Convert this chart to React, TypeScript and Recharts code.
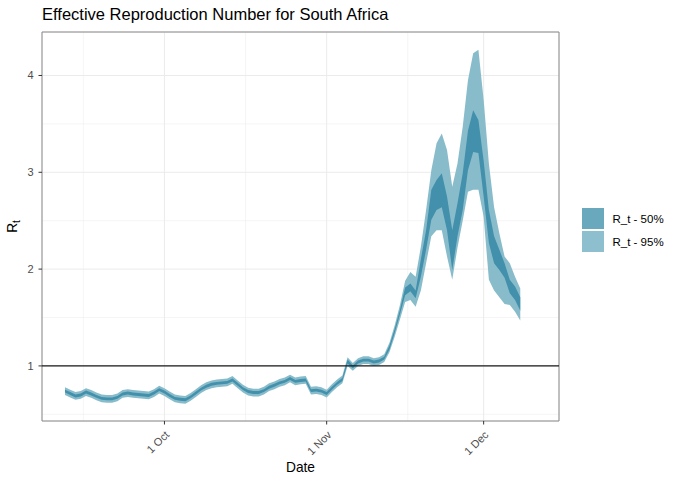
import React from "react";
import {
  ComposedChart,
  Area,
  XAxis,
  YAxis,
  CartesianGrid,
  ReferenceLine,
  ReferenceArea,
  Legend,
} from "recharts";

const DAY = 86400000;
const startDate = Date.UTC(2020, 8, 12);
const oct1 = Date.UTC(2020, 9, 1);

// daily bounds from 12 Sep to 8 Dec
const lo95 = [
  0.7, 0.675, 0.65, 0.66, 0.69, 0.67, 0.645, 0.625, 0.62, 0.62,
  0.635, 0.67, 0.68, 0.67, 0.665, 0.66, 0.655, 0.68, 0.715, 0.69,
  0.655, 0.625, 0.615, 0.61, 0.64, 0.68, 0.72, 0.75, 0.77, 0.78,
  0.785, 0.79, 0.815, 0.77, 0.725, 0.695, 0.685, 0.685, 0.705, 0.74,
  0.76, 0.785, 0.8, 0.83, 0.8, 0.81, 0.815, 0.705, 0.71, 0.7,
  0.675, 0.73, 0.78, 0.82, 1.0, 0.95, 1.0, 1.02, 1.02, 1.0,
  1.01, 1.04, 1.14, 1.3, 1.48, 1.66, 1.68, 1.61, 1.78, 2.06,
  2.34, 2.4, 2.4, 2.13, 1.89, 2.22, 2.5, 2.8, 2.82, 2.82,
  2.54, 1.89, 1.78, 1.71, 1.64, 1.63, 1.56, 1.47,
];
const lo50 = [
  0.725, 0.7, 0.675, 0.685, 0.715, 0.695, 0.67, 0.65, 0.645, 0.645,
  0.66, 0.695, 0.705, 0.695, 0.69, 0.685, 0.68, 0.705, 0.74, 0.715,
  0.68, 0.65, 0.64, 0.635, 0.665, 0.705, 0.745, 0.775, 0.795, 0.805,
  0.81, 0.815, 0.84, 0.795, 0.75, 0.72, 0.71, 0.71, 0.73, 0.765,
  0.785, 0.81, 0.825, 0.855, 0.825, 0.835, 0.84, 0.73, 0.735, 0.725,
  0.7, 0.755, 0.805, 0.845, 1.025, 0.975, 1.025, 1.045, 1.045, 1.025,
  1.035, 1.065, 1.17, 1.34, 1.53, 1.73, 1.77, 1.7, 1.92, 2.2,
  2.51, 2.61, 2.64, 2.4, 1.99, 2.34, 2.61, 3.02, 3.21, 3.2,
  2.75, 2.27, 2.06, 1.99, 1.91, 1.75, 1.68, 1.57,
];
const hi50 = [
  0.755, 0.73, 0.705, 0.715, 0.745, 0.725, 0.7, 0.68, 0.675, 0.675,
  0.69, 0.725, 0.735, 0.725, 0.72, 0.715, 0.71, 0.735, 0.77, 0.745,
  0.71, 0.68, 0.67, 0.665, 0.695, 0.735, 0.775, 0.805, 0.825, 0.835,
  0.84, 0.845, 0.87, 0.825, 0.78, 0.75, 0.74, 0.74, 0.76, 0.795,
  0.815, 0.84, 0.855, 0.885, 0.855, 0.865, 0.87, 0.76, 0.765, 0.755,
  0.73, 0.785, 0.835, 0.875, 1.065, 1.005, 1.055, 1.075, 1.075, 1.055,
  1.065, 1.095, 1.21, 1.38, 1.58, 1.81, 1.85, 1.78, 2.1, 2.4,
  2.82, 2.92, 2.99, 2.75, 2.4, 2.68, 2.99, 3.43, 3.64, 3.54,
  3.12, 2.61, 2.34, 2.2, 2.06, 1.89, 1.82, 1.71,
];
const hi95 = [
  0.78, 0.755, 0.73, 0.74, 0.77, 0.75, 0.725, 0.705, 0.7, 0.7,
  0.715, 0.75, 0.76, 0.75, 0.745, 0.74, 0.735, 0.76, 0.795, 0.77,
  0.735, 0.705, 0.695, 0.69, 0.72, 0.76, 0.8, 0.83, 0.85, 0.86,
  0.865, 0.87, 0.895, 0.85, 0.805, 0.775, 0.765, 0.765, 0.785, 0.82,
  0.84, 0.865, 0.88, 0.91, 0.88, 0.89, 0.895, 0.785, 0.79, 0.78,
  0.755, 0.81, 0.86, 0.9, 1.09, 1.03, 1.08, 1.1, 1.1, 1.08,
  1.09, 1.12, 1.24, 1.42, 1.63, 1.88, 1.97, 1.92, 2.23, 2.61,
  3.02, 3.3, 3.4, 3.23, 2.85, 3.09, 3.47, 3.95, 4.23, 4.265,
  3.75, 3.09, 2.64, 2.37, 2.13, 2.06, 1.92, 1.8,
];

const xTicks = [Date.UTC(2020, 9, 1), Date.UTC(2020, 10, 1), Date.UTC(2020, 11, 1)];
const xTickLabels = ["1 Oct", "1 Nov", "1 Dec"];
const xMinor = [Date.UTC(2020, 8, 15, 12), Date.UTC(2020, 9, 16, 12), Date.UTC(2020, 10, 16, 12)];
const yTicks = [1, 2, 3, 4];
const yMinor = [0.5, 1.5, 2.5, 3.5];

const legendItems = [
  { label: "R_t - 50%", color: "#6AA8BE" },
  { label: "R_t - 95%", color: "#8EBFCE" },
];

const data = lo95.map((_, i) => ({
  date: startDate + i * DAY,
  r95: [lo95[i], hi95[i]],
  r50: [lo50[i], hi50[i]],
}));

const xDomain = [oct1 - 23.4 * DAY, oct1 + 75.4 * DAY];
const yDomain = [0.431, 4.449];

const font = "'Liberation Sans', Arial, Helvetica, sans-serif";

const XTick = (props: any) => {
  const { x, y, payload } = props;
  const i = xTicks.indexOf(payload.value);
  const tx = x + 5.5;
  const ty = y + 9;
  return (
    <text
      x={tx}
      y={ty}
      textAnchor="end"
      transform={`rotate(-45 ${tx} ${ty})`}
      fontSize={11}
      fill="#4D4D4D"
      fontFamily={font}
    >
      {xTickLabels[i]}
    </text>
  );
};

const renderLegend = () => (
  <div style={{ fontFamily: font, fontSize: 11.5, color: "#000" }}>
    {legendItems.map((it) => (
      <div
        key={it.label}
        style={{ display: "flex", alignItems: "center", height: 23 }}
      >
        <div
          style={{ width: 21.5, height: 21.5, background: it.color, marginRight: 9 }}
        />
        <span>{it.label}</span>
      </div>
    ))}
  </div>
);

export default function App() {
  return (
    <div
      style={{
        position: "absolute",
        left: 0,
        top: 0,
        width: 680,
        height: 486,
        background: "#fff",
        fontFamily: font,
      }}
    >
      <div
        style={{
          position: "absolute",
          left: 42,
          top: 6,
          fontSize: 16.5,
          lineHeight: 1,
          color: "#000",
          whiteSpace: "nowrap",
        }}
      >
        Effective Reproduction Number for South Africa
      </div>
      <div
        style={{
          position: "absolute",
          left: 250,
          width: 101,
          textAlign: "center",
          top: 461,
          fontSize: 13.75,
          lineHeight: 1,
          color: "#000",
        }}
      >
        Date
      </div>
      <ComposedChart
        width={680}
        height={486}
        data={data}
        margin={{ top: 32, right: 121, bottom: 5, left: 0 }}
      >
        {/* minor grid first, then major, both under the ribbons */}
        <CartesianGrid
          stroke="#EBEBEB"
          strokeWidth={0.5}
          horizontalValues={yMinor}
          verticalValues={xMinor}
        />
        <CartesianGrid stroke="#EBEBEB" strokeWidth={1} />
        <XAxis
          dataKey="date"
          type="number"
          scale="linear"
          domain={xDomain}
          allowDataOverflow
          ticks={xTicks}
          height={60}
          tickSize={3.5}
          tickLine={{ stroke: "#333333" }}
          axisLine={false}
          tick={<XTick />}
          interval={0}
        />
        <YAxis
          type="number"
          domain={yDomain}
          allowDataOverflow
          ticks={yTicks}
          width={42}
          tickSize={3.5}
          tickMargin={5}
          tickLine={{ stroke: "#333333" }}
          axisLine={false}
          tick={{ fontSize: 11, fill: "#4D4D4D", fontFamily: font }}
          interval={0}
          label={{
            content: () => (
              <text
                x={16.5}
                y={226.5}
                transform="rotate(-90 16.5 226.5)"
                textAnchor="middle"
                fontSize={13.75}
                fill="#000"
                fontFamily={font}
              >
                R
                <tspan fontSize={10} dy={3}>
                  t
                </tspan>
              </text>
            ),
          }}
        />
        <Area
          dataKey="r95"
          type="linear"
          stroke="none"
          fill="#89BCCB"
          fillOpacity={1}
          isAnimationActive={false}
          name="R_t - 95%"
        />
        <Area
          dataKey="r50"
          type="linear"
          stroke="none"
          fill="#4290AB"
          fillOpacity={1}
          isAnimationActive={false}
          name="R_t - 50%"
        />
        <ReferenceLine y={1} stroke="#1A1A1A" strokeWidth={1.3} />
        <ReferenceArea
          x1={xDomain[0]}
          x2={xDomain[1]}
          y1={yDomain[0]}
          y2={yDomain[1]}
          fill="none"
          stroke="#8A8A8A"
          strokeWidth={1}
        />
        <Legend
          layout="vertical"
          align="center"
          verticalAlign="middle"
          content={renderLegend}
          wrapperStyle={{ left: 582, top: 207, width: 100, height: 46 }}
        />
      </ComposedChart>
    </div>
  );
}
